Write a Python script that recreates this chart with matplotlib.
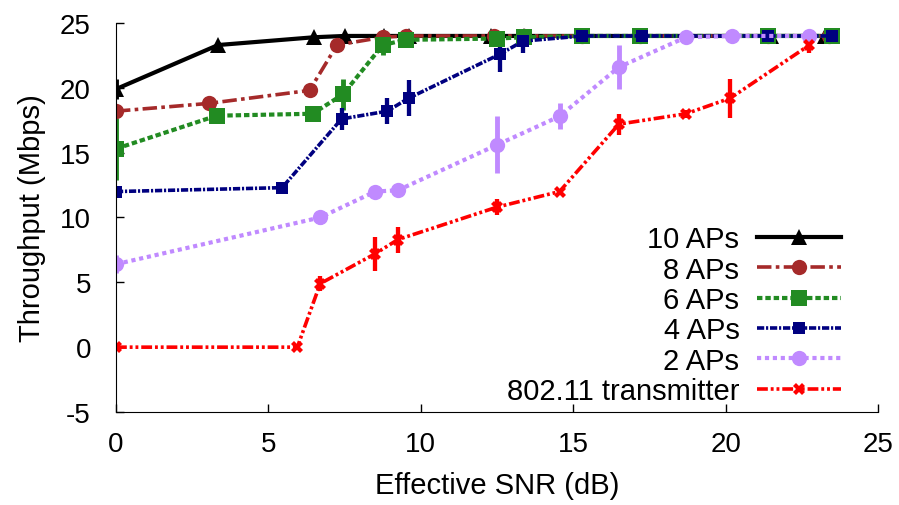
import numpy as np
from matplotlib import pyplot as plt

plt.rcParams['font.family'] = ['Liberation Sans', 'DejaVu Sans']
plt.rcParams['axes.unicode_minus'] = False

# Effective SNR (dB) / throughput (Mbps) / error half-width per series
x_10 = [0, 3.35, 6.5, 7.5, 8.8, 9.6, 12.3, 13.4, 15.3, 17.2, 21.5, 23.25]
y_10 = [19.9, 23.3, 23.9, 24.0, 24.0, 24.0, 24.0, 24.0, 24.0, 24.0, 24.0, 24.0]
e_10 = [0.8, 0.2, 0.1, 0.1, 0.1, 0.1, 0.1, 0.1, 0.1, 0.1, 0.1, 0.1]

x_8 = [0, 3.05, 6.35, 7.25, 8.75, 9.5, 12.4, 13.4, 15.3, 17.2, 21.4, 23.4]
y_8 = [18.2, 18.8, 19.8, 23.3, 23.9, 24.0, 24.0, 24.0, 24.0, 24.0, 24.0, 24.0]
e_8 = [0.5, 0.3, 0.3, 0.3, 0.2, 0.1, 0.1, 0.1, 0.1, 0.1, 0.1, 0.1]

x_6 = [0, 3.3, 6.45, 7.45, 8.75, 9.5, 12.5, 13.4, 15.3, 17.2, 21.4, 23.5]
y_6 = [15.3, 17.85, 18.0, 19.5, 23.3, 23.7, 23.8, 23.9, 24.0, 24.0, 24.0, 24.0]
e_6 = [2.4, 0.3, 0.3, 1.2, 0.8, 0.3, 0.3, 0.2, 0.1, 0.1, 0.1, 0.1]

x_4 = [0, 5.45, 7.4, 8.9, 9.6, 12.6, 13.35, 15.3, 17.25, 21.4, 23.5]
y_4 = [12.0, 12.3, 17.6, 18.2, 19.2, 22.6, 23.6, 24.0, 24.0, 24.0, 24.0]
e_4 = [0.2, 0.2, 0.85, 1.0, 1.4, 1.4, 0.9, 0.1, 0.1, 0.1, 0.1]

x_2 = [0, 6.7, 8.5, 9.25, 12.5, 14.55, 16.5, 18.7, 20.2, 22.75]
y_2 = [6.4, 10.0, 12.0, 12.1, 15.6, 17.8, 21.6, 23.9, 24.0, 24.0]
e_2 = [0.7, 0.5, 0.2, 0.2, 2.2, 1.0, 1.7, 0.2, 0.1, 0.1]

x_tx = [0, 5.95, 6.7, 8.5, 9.25, 12.5, 14.55, 16.5, 18.7, 20.15, 22.75]
y_tx = [0.0, 0.0, 4.9, 7.2, 8.3, 10.8, 12.0, 17.2, 18.0, 19.2, 23.3]
e_tx = [0.1, 0.1, 0.6, 1.3, 1.0, 0.6, 0.2, 0.8, 0.3, 1.5, 0.6]

labels = ['10 APs', '8 APs', '6 APs', '4 APs', '2 APs', '802.11 transmitter']

series = [
    (x_10, y_10, e_10, '#000000', 'solid', '^', 11, 3.0),
    (x_8, y_8, e_8, '#a52a2a', (0, (4, 1.2, 1, 1.2)), 'o', 11, 2.6),
    (x_6, y_6, e_6, '#228b22', (0, (1.3, 0.7)), 's', 12, 3.0),
    (x_4, y_4, e_4, '#000080', (0, (2, 0.5, 0.6, 0.5)), 's', 9, 2.6),
    (x_2, y_2, e_2, '#c08aff', (0, (1, 0.9)), 'o', 11, 3.0),
    (x_tx, y_tx, e_tx, '#ff0000', (0, (3, 0.8, 0.8, 0.8, 0.8, 0.8)), 'X', 8, 2.6),
]

fig = plt.figure(figsize=(8.99, 5.06), dpi=100)
ax = fig.add_axes([0.129, 0.1838, 0.8477, 0.7688])

handles = []
for (xs, ys, es, col, ls, mk, ms, lw), lab in zip(series, labels):
    cont = ax.errorbar(xs, ys, yerr=es, color=col, linestyle=ls, linewidth=lw,
                       marker=mk, markersize=ms, markeredgewidth=0,
                       elinewidth=lw + 0.5, capsize=3, capthick=lw, label=lab)
    handles.append(cont[0])

ax.set_xlim(0, 25)
ax.set_ylim(-5, 25)
ax.set_xticks(np.arange(0, 26, 5))
ax.set_yticks(np.arange(-5, 26, 5))
ax.spines['top'].set_visible(False)
ax.spines['right'].set_visible(False)
ax.tick_params(direction='in', length=6, width=1, labelsize=20, pad=14)
ax.tick_params(axis='y', pad=18)

ax.set_xlabel('Effective SNR (dB)', fontsize=21, labelpad=10)
ax.set_ylabel('Throughput (Mbps)', fontsize=21, labelpad=10)

leg = ax.legend(handles, labels, loc='lower right', bbox_to_anchor=(0.952, 0.018),
                markerfirst=False, frameon=False, fontsize=21, handlelength=2.9,
                handletextpad=0.6, labelspacing=0.08, borderpad=0, borderaxespad=0,
                numpoints=1)

fig.savefig('out.png', dpi=100)
